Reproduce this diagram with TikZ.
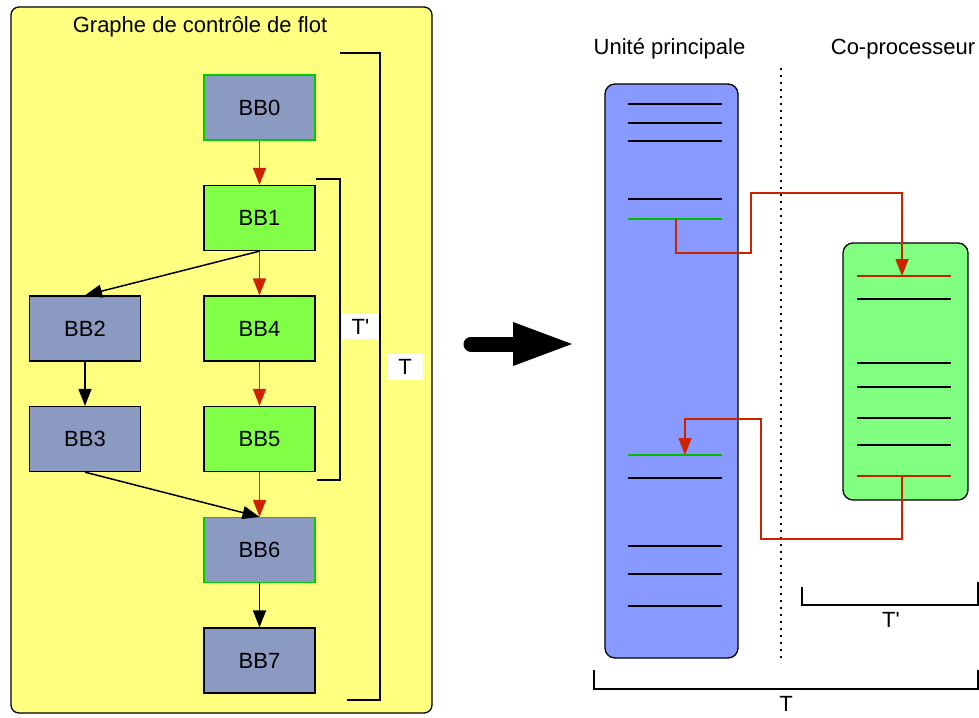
\documentclass[tikz,border=0pt]{standalone}
\usepackage{fontspec}
\setmainfont{Liberation Sans}
\usetikzlibrary{arrows.meta}
\definecolor{cfgyellow}{HTML}{FFFF80}
\definecolor{bbgray}{HTML}{8A9AC0}
\definecolor{bbgreen}{HTML}{80FF46}
\definecolor{edgegreen}{HTML}{00CC00}
\definecolor{flowred}{HTML}{CC2200}
\definecolor{unitblue}{HTML}{8899FF}
\definecolor{cogreen}{HTML}{80FF80}
\definecolor{linegreen}{HTML}{00BB00}
\begin{document}
\begin{tikzpicture}[x=1pt,y=-1pt,
  font=\fontsize{22}{26}\selectfont,
  bb/.style={draw=black, line width=1.3pt, minimum width=111pt, minimum height=65pt, inner sep=0pt},
  bbg/.style={bb, fill=bbgray},
  bbv/.style={bb, fill=bbgreen},
  tip/.style={-{Triangle[length=17pt,width=13pt]}},
  redflow/.style={draw=flowred, line width=1.5pt, tip},
  blackflow/.style={draw=black, line width=1.5pt, tip},
  bracket/.style={draw=black, line width=1.4pt},
  tbox/.style={fill=white, inner sep=0pt},
  stackline/.style={line width=1.8pt},
  panel/.style={draw=black, line width=1.3pt, rounded corners=10pt, inner sep=0pt}]
\useasboundingbox (0,0) rectangle (979,717);

% control flow graph panel
\node[panel, rounded corners=8pt, fill=cfgyellow, minimum width=421pt, minimum height=706pt] (cfg) at (221.5,360) {};
\node[anchor=base] (title) at (200,33) {Graphe de contr\^ole de flot};

\node[bbg, draw=edgegreen] (bb0) at (259.5,107.5) {BB0};
\node[bbv] (bb1) at (259.5,218) {BB1};
\node[bbg] (bb2) at (85,328.5) {BB2};
\node[bbv] (bb4) at (259.5,328.5) {BB4};
\node[bbg] (bb3) at (85,439) {BB3};
\node[bbv] (bb5) at (259.5,439) {BB5};
\node[bbg, draw=edgegreen] (bb6) at (259.5,550) {BB6};
\node[bbg] (bb7) at (259.5,660.5) {BB7};

\draw[redflow] (bb0.south) -- (bb1.north);
\draw[redflow] (bb1.south) -- (bb4.north);
\draw[redflow] (bb4.south) -- (bb5.north);
\draw[redflow] (bb5.south) -- (bb6.north);
\draw[blackflow] (bb1.south) -- (bb2.north);
\draw[blackflow] (bb2.south) -- (bb3.north);
\draw[blackflow] (bb3.south) -- (bb6.north);
\draw[blackflow] (bb6.south) -- (bb7.north);

% duration brackets of the graph
\draw[bracket] (316,179) -- (340,179) -- (340,480) -- (317,480);
\node[tbox, minimum width=37pt, minimum height=25pt] (tp) at (360.5,326.5) {T\textquotesingle};
\draw[bracket] (340,53) -- (380,53) -- (380,700) -- (347,700);
\node[tbox, minimum width=36pt, minimum height=26pt] (tt) at (405,367) {T};

% transformation arrow
\coordinate (arr) at (513,344);
\draw[line width=15pt, line cap=round] (471,344) -- (arr);
\fill (arr) ++(0,-22) -- (572,344) -- (513,366) -- cycle;

% execution on the two units
\node[anchor=base] (main) at (669.5,55) {Unit\'e principale};
\node[anchor=base] (cop) at (903,55) {Co-processeur};

\node[panel, fill=unitblue, minimum width=133pt, minimum height=574pt] (unit) at (671.5,371) {};
\node[panel, fill=cogreen, minimum width=125pt, minimum height=257pt] (copro) at (905.5,371.5) {};

\draw[line width=2pt, dash pattern=on 2pt off 5pt] (781,68) -- (781,663);

\foreach \y in {104,123,141,199,478,546,574,606}
  \draw[stackline] (628,\y) -- (722,\y);
\foreach \y in {219,455}
  \draw[stackline, draw=linegreen] (628,\y) -- (722,\y);
\foreach \y in {299,363,387,418,445}
  \draw[stackline] (857,\y) -- (951,\y);
\foreach \y in {276,476}
  \draw[stackline, draw=flowred] (857,\y) -- (951,\y);

\coordinate (send1) at (676,219);
\coordinate (recv1) at (902,276);
\draw[redflow] (send1) -- (676,253) -- (751,253) -- (751,193) -- (902,193) -- (recv1);
\coordinate (send2) at (902,476);
\coordinate (recv2) at (685,455);
\draw[redflow] (send2) -- (902,539) -- (761,539) -- (761,419) -- (685,419) -- (recv2);

% duration brackets of the execution
\draw[bracket] (802,587) -- (802,605) -- (978,605) -- (978,582);
\node[anchor=base] (tpb) at (891,627) {T\textquotesingle};
\draw[bracket] (594,670) -- (594,689) -- (978,689) -- (978,670);
\node[anchor=base, inner sep=0pt] (ttb) at (786,711) {T};
\end{tikzpicture}
\end{document}
